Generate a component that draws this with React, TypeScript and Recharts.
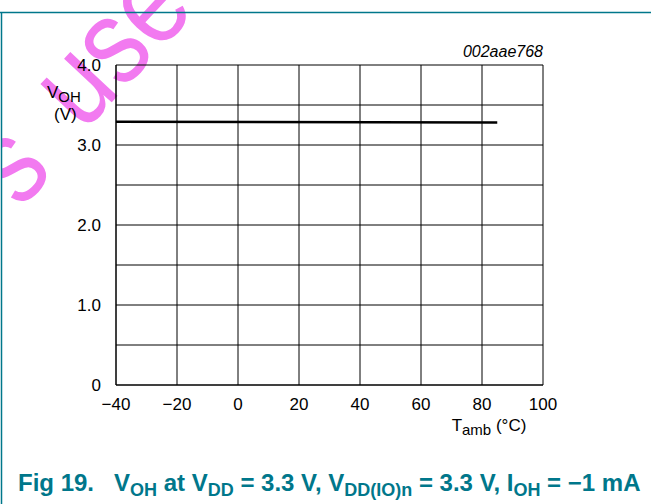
import React from "react";
import {
  LineChart,
  Line,
  XAxis,
  YAxis,
  CartesianGrid,
  Label,
} from "recharts";

const tempTicks = [-40, -20, 0, 20, 40, 60, 80, 100];
const voltTicks = [0, 0.5, 1, 1.5, 2, 2.5, 3, 3.5, 4];
const tempPoints = [-40, 85];
const vohValues = [3.29, 3.28];

const data = tempPoints.map((t, i) => ({ t, voh: vohValues[i] }));

const TEAL = "#00778b";
const PINK = "#f27af0";
const FONT = "'Liberation Sans', Arial, sans-serif";

const fmtTemp = (v: number) => (v < 0 ? "\u2212" + Math.abs(v) : String(v));
const fmtVolt = (v: number) => {
  if (v % 1 !== 0) return "";
  return v === 0 ? "0" : v.toFixed(1);
};

const layer: React.CSSProperties = {
  position: "absolute",
  left: 0,
  top: 0,
  pointerEvents: "none",
};

function Watermark() {
  return (
    <svg width={651} height={504} style={layer}>
      <text
        x={0}
        y={0}
        transform="translate(83 133) rotate(-47) scale(0.85 1)"
        fontFamily={FONT}
        fontSize={122}
        fill={PINK}
      >
        use
      </text>
      <text
        x={0}
        y={0}
        transform="translate(20 210) rotate(-47) scale(0.85 1)"
        fontFamily={FONT}
        fontSize={122}
        fill={PINK}
      >
        s
      </text>
    </svg>
  );
}

function Frame() {
  return (
    <svg width={651} height={504} style={layer}>
      <rect x={0} y={0} width={1} height={504} fill="#fff" />
      <line x1={0} y1={12.5} x2={651} y2={12.5} stroke={TEAL} strokeWidth={1.5} />
      <line x1={1.5} y1={12} x2={1.5} y2={504} stroke={TEAL} strokeWidth={1.5} />

      <text x={18} y={491} fontFamily={FONT} fontWeight="bold" fontSize={24} fill={TEAL}>
        <tspan>Fig 19.</tspan>
        <tspan dx={20}>V</tspan>
        <tspan fontSize={18} dy={5}>OH</tspan>
        <tspan dy={-5}> at V</tspan>
        <tspan fontSize={18} dy={5}>DD</tspan>
        <tspan dy={-5}> = 3.3 V, V</tspan>
        <tspan fontSize={18} dy={5}>DD(IO)n</tspan>
        <tspan dy={-5}> = 3.3 V, I</tspan>
        <tspan fontSize={18} dy={5}>OH</tspan>
        <tspan dy={-5}> = {"\u2212"}1 mA</tspan>
      </text>
    </svg>
  );
}

export default function App() {
  return (
    <div
      style={{
        position: "absolute",
        left: 0,
        top: 0,
        width: 651,
        height: 504,
        background: "#fff",
        fontFamily: FONT,
      }}
    >
      <Watermark />
      <div style={{ position: "absolute", left: 0, top: 0 }}>
        <LineChart
          width={651}
          height={504}
          data={data}
          margin={{ top: 65, right: 108, bottom: 89, left: 56 }}
        >
          <CartesianGrid stroke="#000" strokeWidth={1} />
          <XAxis
            dataKey="t"
            type="number"
            domain={[-40, 100]}
            ticks={tempTicks}
            interval={0}
            tickFormatter={fmtTemp}
            tickLine={false}
            axisLine={{ stroke: "#000" }}
            tick={{ fill: "#000", fontSize: 17, fontFamily: FONT }}
            tickMargin={7}
            height={30}
          >
            <Label
              content={() => (
                <text x={489} y={431} textAnchor="middle" fontFamily={FONT} fontSize={17} fill="#000">
                  <tspan>T</tspan>
                  <tspan fontSize={15} dy={4}>amb</tspan>
                  <tspan dy={-4}> (°C)</tspan>
                </text>
              )}
            />
          </XAxis>
          <YAxis
            type="number"
            domain={[0, 4]}
            ticks={voltTicks}
            interval={0}
            tickFormatter={fmtVolt}
            tickLine={false}
            axisLine={{ stroke: "#000" }}
            tick={{ fill: "#000", fontSize: 17, fontFamily: FONT }}
            tickMargin={9}
            width={60}
          >
            <Label
              content={() => (
                <g>
                  <text x={47} y={98} fontFamily={FONT} fontSize={17} fill="#000">
                    <tspan>V</tspan>
                    <tspan fontSize={15} dy={4}>OH</tspan>
                  </text>
                  <text x={54} y={120} fontFamily={FONT} fontSize={17} fill="#000">
                    (V)
                  </text>
                  <text
                    x={543}
                    y={57}
                    textAnchor="end"
                    fontFamily={FONT}
                    fontSize={16}
                    fontStyle="italic"
                    fill="#000"
                  >
                    002aae768
                  </text>
                </g>
              )}
            />
          </YAxis>
          <Line
            dataKey="voh"
            stroke="#000"
            strokeWidth={2.5}
            dot={false}
            isAnimationActive={false}
          />
        </LineChart>
      </div>
      <Frame />
    </div>
  );
}
